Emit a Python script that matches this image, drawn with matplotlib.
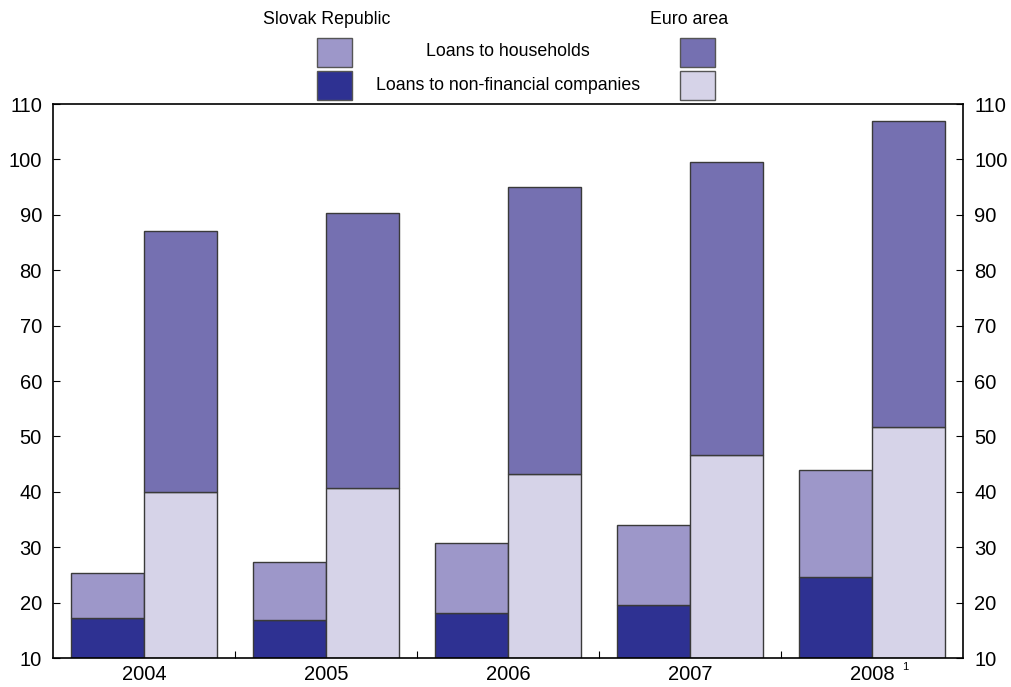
import matplotlib
matplotlib.use("Agg")
import matplotlib.pyplot as plt
from matplotlib.patches import Rectangle
import numpy as np

plt.rcParams['font.family'] = ['Liberation Sans', 'DejaVu Sans']

years = ["2004", "2005", "2006", "2007", "2008"]
# Slovak Republic, % of GDP
sk_companies = [17.3, 16.9, 18.2, 19.6, 24.7]
sk_total = [25.3, 27.3, 30.8, 34.0, 44.0]
# Euro area, % of GDP
ea_companies = [39.9, 40.7, 43.2, 46.7, 51.7]
ea_total = [87.1, 90.3, 95.0, 99.5, 106.9]

sk_households = [t - c for t, c in zip(sk_total, sk_companies)]
ea_households = [t - c for t, c in zip(ea_total, ea_companies)]

c_sk_hh = '#9d97c9'
c_sk_nfc = '#2e3192'
c_ea_hh = '#7570b1'
c_ea_nfc = '#d6d3e8'
edge = '#3a3a3a'

base = 10
fig = plt.figure(figsize=(10.12, 6.87), dpi=100)
ax = fig.add_axes([0.0524, 0.0422, 0.8992, 0.8064])

x = np.arange(len(years)) + 0.5
w = 0.4
sk_nfc_h = [v - base for v in sk_companies]
ea_nfc_h = [v - base for v in ea_companies]
ax.bar(x - w / 2, sk_nfc_h, w, bottom=base, color=c_sk_nfc, edgecolor=edge, linewidth=1)
ax.bar(x - w / 2, sk_households, w, bottom=sk_companies, color=c_sk_hh, edgecolor=edge, linewidth=1)
ax.bar(x + w / 2, ea_nfc_h, w, bottom=base, color=c_ea_nfc, edgecolor=edge, linewidth=1)
ax.bar(x + w / 2, ea_households, w, bottom=ea_companies, color=c_ea_hh, edgecolor=edge, linewidth=1)

ax.set_xlim(0, len(years))
ax.set_ylim(10, 110)
ax.set_yticks(range(10, 111, 10))
ax.tick_params(axis='y', direction='in', length=5, labelsize=14.5, right=True, labelright=True, pad=8)
ax.set_xticks(np.arange(1, len(years)))
ax.set_xticklabels([])
ax.tick_params(axis='x', which='major', direction='in', length=5)
ax.set_xticks(x, minor=True)
ax.set_xticklabels(years, minor=True, fontsize=14.5)
ax.tick_params(axis='x', which='minor', length=0, pad=5)
for s in ax.spines.values():
    s.set_linewidth(1.2)

fig.text(905 / 1012, 1 - 667 / 687, "1", fontsize=8, ha='center', va='center')

# legend block above the plot
fs = 12.8
fig.text(327 / 1012, 1 - 19 / 687, "Slovak Republic", fontsize=fs, ha='center', va='center')
fig.text(689 / 1012, 1 - 19 / 687, "Euro area", fontsize=fs, ha='center', va='center')
fig.text(508 / 1012, 1 - 52 / 687, "Loans to households", fontsize=fs, ha='center', va='center')
fig.text(508 / 1012, 1 - 85 / 687, "Loans to non-financial companies", fontsize=fs, ha='center', va='center')
boxes = [(317, 38, c_sk_hh), (317, 71, c_sk_nfc), (680, 38, c_ea_hh), (680, 71, c_ea_nfc)]
for bx, by, col in boxes:
    fig.patches.append(Rectangle((bx / 1012, 1 - (by + 29) / 687), 35 / 1012, 29 / 687,
                                 transform=fig.transFigure, facecolor=col, edgecolor='#555555', linewidth=1))

fig.savefig("out.png", dpi=100)
